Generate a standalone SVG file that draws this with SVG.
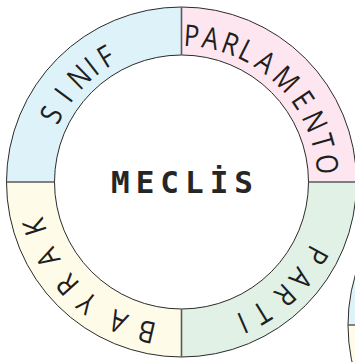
<svg xmlns="http://www.w3.org/2000/svg" width="355" height="362" viewBox="0 0 355 362">
<style>
.ring{stroke:none}
.edge{fill:none;stroke:#2b2b2b;stroke-width:1}
.div{stroke:#5a5a5a;stroke-width:1.6}
.lbl{font-family:"Open Sans","Liberation Sans",sans-serif;font-weight:400;font-size:30px;fill:#1e1e1e;text-anchor:middle}
.title{font-family:"DejaVu Sans Mono","Liberation Mono",monospace;font-weight:bold;font-size:31px;fill:#262626;letter-spacing:6px;text-anchor:middle}
</style>
<rect width="355" height="362" fill="#ffffff"/>
<g id="other-ring">
<path class="ring" fill="#def2fa" d="M348,325 A175,175 0 0 1 523,150 L523,198 A127,127 0 0 0 396,325 Z"/>
<path class="ring" fill="#fefbe8" d="M348,325 A175,175 0 0 0 523,500 L523,452 A127,127 0 0 1 396,325 Z"/>
<circle class="edge" cx="523" cy="325" r="175"/>
<line class="div" x1="348" y1="325" x2="396" y2="325"/>
</g>
<g id="sinif">
<path class="ring" fill="#def2fa" d="M6.5,182 A175,175 0 0 1 181.5,7 L181.5,55 A127,127 0 0 0 54.5,182 Z"/>
<g transform="translate(181.5 182)">
<text class="lbl" transform="rotate(-62.7) translate(0 -136) scale(0.85 1)">S</text>
<text class="lbl" transform="rotate(-53.6) translate(0 -136) scale(0.85 1)">I</text>
<text class="lbl" transform="rotate(-44.3) translate(0 -136) scale(0.85 1)">N</text>
<text class="lbl" transform="rotate(-37.9) translate(0 -136) scale(0.85 1)">I</text>
<text class="lbl" transform="rotate(-31.1) translate(0 -136) scale(0.85 1)">F</text>
</g>
</g>
<g id="parlamento">
<path class="ring" fill="#fde6ef" d="M181.5,7 A175,175 0 0 1 356.5,182 L308.5,182 A127,127 0 0 0 181.5,55 Z"/>
<g transform="translate(181.5 182)">
<text class="lbl" transform="rotate(4) translate(0 -136) scale(0.85 1)">P</text>
<text class="lbl" transform="rotate(11.5) translate(0 -136) scale(0.85 1)">A</text>
<text class="lbl" transform="rotate(19.5) translate(0 -136) scale(0.85 1)">R</text>
<text class="lbl" transform="rotate(26.5) translate(0 -136) scale(0.85 1)">L</text>
<text class="lbl" transform="rotate(35) translate(0 -136) scale(0.85 1)">A</text>
<text class="lbl" transform="rotate(45.5) translate(0 -136) scale(0.85 1)">M</text>
<text class="lbl" transform="rotate(56) translate(0 -136) scale(0.85 1)">E</text>
<text class="lbl" transform="rotate(65.5) translate(0 -136) scale(0.85 1)">N</text>
<text class="lbl" transform="rotate(74) translate(0 -136) scale(0.85 1)">T</text>
<text class="lbl" transform="rotate(83) translate(0 -136) scale(0.85 1)">O</text>
</g>
</g>
<g id="parti">
<path class="ring" fill="#e1f1e6" d="M356.5,182 A175,175 0 0 1 181.5,357 L181.5,309 A127,127 0 0 0 308.5,182 Z"/>
<g transform="translate(181.5 182)">
<text class="lbl" transform="rotate(118.5) translate(0 -143) scale(0.85 1)">P</text>
<text class="lbl" transform="rotate(129) translate(0 -143) scale(0.85 1)">A</text>
<text class="lbl" transform="rotate(137.5) translate(0 -143) scale(0.85 1)">R</text>
<text class="lbl" transform="rotate(148.5) translate(0 -143) scale(0.85 1)">T</text>
<text class="lbl" transform="rotate(156.5) translate(0 -143) scale(0.85 1)">I</text>
</g>
</g>
<g id="bayrak">
<path class="ring" fill="#fefbe8" d="M181.5,357 A175,175 0 0 1 6.5,182 L54.5,182 A127,127 0 0 0 181.5,309 Z"/>
<g transform="translate(181.5 182)">
<text class="lbl" transform="rotate(193) translate(0 -143) scale(0.85 1)">B</text>
<text class="lbl" transform="rotate(204.5) translate(0 -143) scale(0.85 1)">A</text>
<text class="lbl" transform="rotate(218) translate(0 -143) scale(0.85 1)">Y</text>
<text class="lbl" transform="rotate(228) translate(0 -143) scale(0.85 1)">R</text>
<text class="lbl" transform="rotate(240.5) translate(0 -143) scale(0.85 1)">A</text>
<text class="lbl" transform="rotate(253) translate(0 -143) scale(0.85 1)">K</text>
</g>
</g>
<g id="connectors">
<circle class="edge" cx="181.5" cy="182" r="175"/>
<circle class="edge" cx="181.5" cy="182" r="127"/>
<line class="div" x1="181.5" y1="7" x2="181.5" y2="55"/>
<line class="div" x1="308.5" y1="182" x2="356.5" y2="182"/>
<line class="div" x1="181.5" y1="309" x2="181.5" y2="357"/>
<line class="div" x1="6.5" y1="182" x2="54.5" y2="182"/>
</g>
<g id="meclis">
<text class="title" x="185" y="193">MECLİS</text>
</g>
</svg>
